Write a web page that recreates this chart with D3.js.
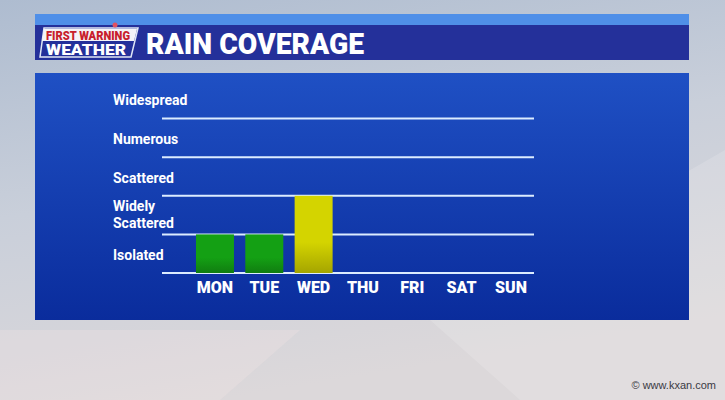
<!doctype html>
<html>
<head>
    <script src="https://cdnjs.cloudflare.com/ajax/libs/d3/7.8.5/d3.min.js"></script>
    <style>
        body { margin: 0; overflow: hidden; }
        svg { display: block; font-family: Roboto, "Liberation Sans", sans-serif; }
    </style>
</head>
<body>
    <div id="viz"></div>
    <script>
        // chart data
        var days = ["MON", "TUE", "WED", "THU", "FRI", "SAT", "SUN"];
        var coverage = [1, 1, 2, 0, 0, 0, 0];
        var levels = ["Isolated", "Widely Scattered", "Scattered", "Numerous", "Widespread"];
        var barColors = ["#14a014", "#14a014", "#d4d400", null, null, null, null];

        var width = 725, height = 400;

        var svg = d3.select("#viz").append("svg")
            .attr("width", width)
            .attr("height", height);

        var defs = svg.append("defs");

        // sky background
        var sky = defs.append("linearGradient").attr("id", "sky")
            .attr("x1", 0).attr("y1", 0).attr("x2", 0.3).attr("y2", 1);
        sky.append("stop").attr("offset", 0).attr("stop-color", "#aebcd0");
        sky.append("stop").attr("offset", 0.5).attr("stop-color", "#c9cfda");
        sky.append("stop").attr("offset", 1).attr("stop-color", "#dcd8da");

        var panel = defs.append("linearGradient").attr("id", "panel")
            .attr("x1", 0).attr("y1", 0).attr("x2", 0).attr("y2", 1);
        panel.append("stop").attr("offset", 0).attr("stop-color", "#1f50c4");
        panel.append("stop").attr("offset", 1).attr("stop-color", "#0a2c9c");

        barColors.forEach(function (c, i) {
            if (!c) return;
            var g = defs.append("linearGradient").attr("id", "bar" + i)
                .attr("x1", 0).attr("y1", 0).attr("x2", 0).attr("y2", 1);
            g.append("stop").attr("offset", 0).attr("stop-color", c);
            g.append("stop").attr("offset", 0.6).attr("stop-color", c);
            g.append("stop").attr("offset", 1).attr("stop-color", d3.color(c).darker(0.7));
        });

        svg.append("rect").attr("width", width).attr("height", height).attr("fill", "url(#sky)");
        // soft light wedges in the sky
        svg.append("path").attr("d", "M430,320 L725,150 L725,400 L520,400 Z").attr("fill", "#ffffff").attr("opacity", 0.15);
        svg.append("path").attr("d", "M0,330 L300,330 L220,400 L0,400 Z").attr("fill", "#f2e6e6").attr("opacity", 0.3);

        // header
        svg.append("rect").attr("x", 35).attr("y", 14).attr("width", 654).attr("height", 12).attr("fill", "#4f8fe8");
        svg.append("rect").attr("x", 35).attr("y", 25).attr("width", 654).attr("height", 35).attr("fill", "#24309a");

        // logo
        var logo = svg.append("g");
        logo.append("path").attr("d", "M44,28 L138,28 L131,57 L40,57 Z")
            .attr("fill", "#24309a").attr("stroke", "#dfe6f5").attr("stroke-width", 1.5);
        logo.append("path").attr("d", "M44,29 L137,29 L134,41 L42,41 Z").attr("fill", "#f4f4f8");
        logo.append("text").attr("x", 88).attr("y", 39.5).attr("text-anchor", "middle")
            .attr("font-size", 12).attr("font-weight", 900).attr("fill", "#c8202c")
            .attr("textLength", 84).attr("lengthAdjust", "spacingAndGlyphs").text("FIRST WARNING");
        logo.append("text").attr("x", 86).attr("y", 54.5).attr("text-anchor", "middle")
            .attr("font-size", 14).attr("font-weight", 900).attr("fill", "#ffffff")
            .attr("textLength", 80).attr("lengthAdjust", "spacingAndGlyphs").text("WEATHER");
        logo.append("circle").attr("cx", 115).attr("cy", 25).attr("r", 2.5).attr("fill", "#e05060");

        svg.append("text").attr("x", 146).attr("y", 54).attr("font-size", 30).attr("font-weight", 900)
            .attr("fill", "#ffffff").attr("textLength", 218).attr("lengthAdjust", "spacingAndGlyphs")
            .text("RAIN COVERAGE");

        // panel
        svg.append("rect").attr("x", 35).attr("y", 73).attr("width", 654).attr("height", 247).attr("fill", "url(#panel)");

        // scales
        var x = d3.scaleBand().domain(days).range([190.3, 535.6]).paddingInner(0.23).paddingOuter(0.115);
        var y = d3.scaleLinear().domain([0, 5]).range([273, 80]);

        // grid lines
        svg.append("g").selectAll("line")
            .data(d3.range(0, 5))
            .enter().append("line")
            .attr("x1", 162).attr("x2", 534)
            .attr("y1", function (d) { return y(d); })
            .attr("y2", function (d) { return y(d); })
            .attr("stroke", "#dcecff").attr("stroke-width", 2);

        // level labels (two-word label wraps onto two lines)
        var labG = svg.append("g")
            .attr("font-size", 14).attr("font-weight", 700).attr("fill", "#ffffff");
        levels.forEach(function (d, i) {
            var cy = y(i + 0.5);
            if (d === "Widely Scattered") {
                labG.append("text").attr("x", 113).attr("y", cy - 4).text("Widely");
                labG.append("text").attr("x", 113).attr("y", cy + 13).text("Scattered");
            } else {
                labG.append("text").attr("x", 113).attr("y", cy + 6).text(d);
            }
        });

        // bars
        svg.append("g").selectAll("rect")
            .data(days.map(function (d, i) { return { day: d, v: coverage[i], i: i }; }).filter(function (d) { return d.v > 0; }))
            .enter().append("rect")
            .attr("x", function (d) { return x(d.day); })
            .attr("y", function (d) { return y(d.v); })
            .attr("width", x.bandwidth())
            .attr("height", function (d) { return y(0) - y(d.v); })
            .attr("fill", function (d) { return "url(#bar" + d.i + ")"; });

        // day labels
        svg.append("g").selectAll("text")
            .data(days)
            .enter().append("text")
            .attr("x", function (d) { return x(d) + x.bandwidth() / 2; })
            .attr("y", 293)
            .attr("text-anchor", "middle")
            .attr("font-size", 16).attr("font-weight", 900).attr("fill", "#ffffff")
            .text(function (d) { return d; });

        // credit
        svg.append("text").attr("x", 716).attr("y", 389).attr("text-anchor", "end")
            .attr("font-size", 11).attr("fill", "#3a3a44")
            .attr("font-family", "'Liberation Sans', sans-serif")
            .text("\u00a9 www.kxan.com");
    </script>
</body>
</html>
